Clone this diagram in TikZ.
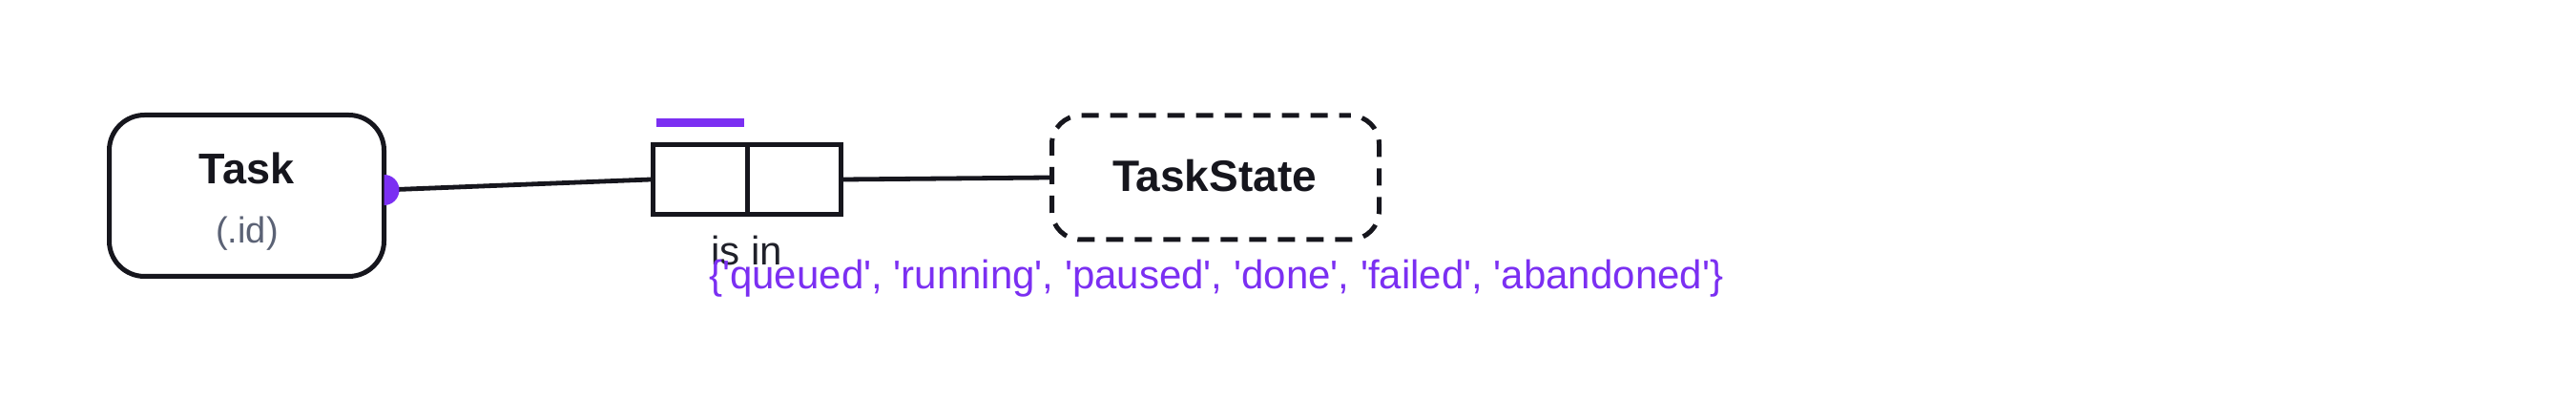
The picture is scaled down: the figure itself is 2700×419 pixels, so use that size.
\documentclass[tikz,border=0pt]{standalone}
\usepackage{fontspec}
\setmainfont{Liberation Sans}
\usetikzlibrary{calc}
\definecolor{ink}{HTML}{16161D}
\definecolor{violet}{HTML}{7B2FF2}
\definecolor{muted}{HTML}{5B6275}
\newcommand{\sq}{\textquotesingle}
\begin{document}
\begin{tikzpicture}[x=1pt,y=-1pt,
  entity/.style={draw=ink, line width=5pt, rounded corners=37pt, fill=white, inner sep=0pt},
  valuebox/.style={draw=ink, line width=5pt, fill=white, inner sep=0pt, minimum width=197pt, minimum height=72.5pt},
  conn/.style={draw=ink, line width=4.8pt},
  title/.style={font=\bfseries\fontsize{45}{50}\selectfont, text=ink, inner sep=0pt, anchor=base},
  sub/.style={font=\fontsize{38}{44}\selectfont, text=muted, inner sep=0pt, anchor=base},
  lbl/.style={font=\fontsize{42}{48}\selectfont, inner sep=0pt, anchor=base west}]
\useasboundingbox (0,0) rectangle (2700,419);
\fill[white] (0,0) rectangle (2700,419);
% Task entity
\node[entity, minimum width=288pt, minimum height=169pt] (task) at (258.5,205) {};
\node[title] (tasktitle) at (258.5,193) {Task};
\node[sub] (taskid) at (259,255) {(.id)};
% TaskState entity
\node[entity, dashed, dash pattern=on 18pt off 12pt, dash phase=6pt, rounded corners=30pt, minimum width=343pt, minimum height=130pt] (ts) at (1274,186) {};
\node[title, font=\bfseries\fontsize{46}{50}\selectfont] (tstitle) at (1273,201) {TaskState};
% value box
\node[valuebox] (vbox) at (783,188) {};
\coordinate (divtop) at (783,152);
\coordinate (divbot) at (783,224.5);
\draw[ink, line width=5pt] (divtop) -- (divbot);
\fill[violet] (688,124) rectangle (780,133);
% dot
\coordinate (dot) at (402.5,199);
\draw[conn] (dot) -- (vbox.west);
\draw[conn] (vbox.east) -- (ts.west);
\fill[violet] ($(dot)+(0,-16)$) arc[start angle=90, end angle=-90, radius=16pt] -- cycle;
% labels
\node[lbl, text=ink!85!muted] (isin) at (745,278) {is in};
\node[lbl, text=violet] (vals) at (743,303) {\{\sq queued\sq, \sq running\sq, \sq paused\sq, \sq done\sq, \sq failed\sq, \sq abandoned\sq\}};
\end{tikzpicture}
\end{document}
